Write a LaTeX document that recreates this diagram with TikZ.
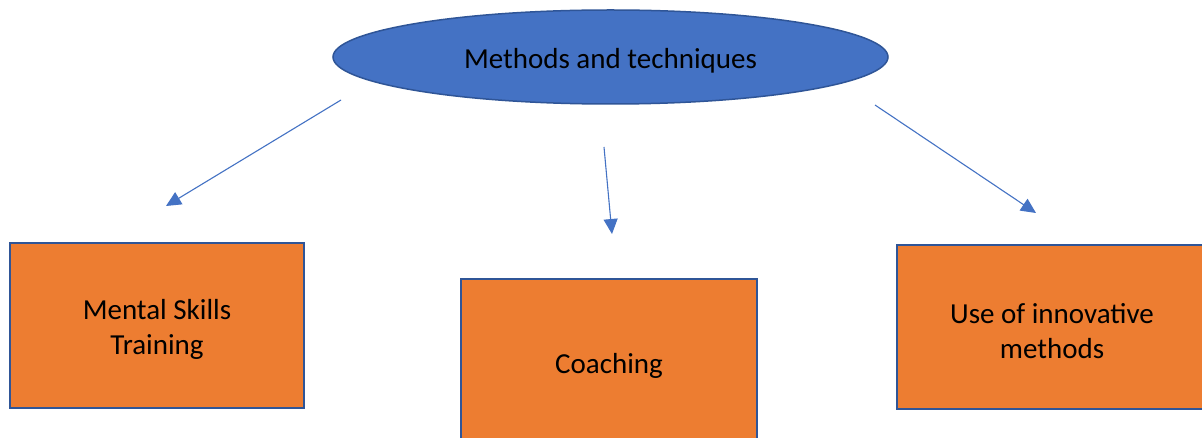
\documentclass[tikz,border=0pt]{standalone}
\usepackage{fontspec}
\setmainfont{Carlito}
\usetikzlibrary{shapes.geometric,arrows.meta}
\definecolor{ofblue}{HTML}{4472C4}
\definecolor{ofdark}{HTML}{2F5597}
\definecolor{oforange}{HTML}{ED7D31}
\tikzset{
  lbl/.style={font=\fontsize{29}{35.5}\selectfont, text=black, align=center},
  topic/.style={ellipse, draw=ofdark, line width=1.5pt, fill=ofblue, minimum width=555pt, minimum height=94pt, inner sep=0pt},
  itembox/.style={rectangle, draw=ofdark, line width=1.8pt, fill=oforange, inner sep=0pt},
  txt/.style={label={[lbl, yshift=-4pt]center:#1}},
  conn/.style={draw=ofblue, line width=1.1pt, -{Triangle[length=15pt,width=14pt]}}
}
\begin{document}
\begin{tikzpicture}[x=1pt,y=-1pt]
\useasboundingbox (0,0) rectangle (1202,438);
\fill[white] (0,0) rectangle (1202,438);
\node[topic, txt={Methods and techniques}] (top) at (610.5,57) {};
\node[itembox, minimum width=294pt, minimum height=165pt, txt={Mental Skills\\Training}] (mst) at (157,325.5) {};
\node[itembox, minimum width=296pt, minimum height=165pt, txt={Coaching}] (coach) at (609,361.5) {};
\node[itembox, minimum width=310pt, minimum height=164pt, txt={Use of innovative\\methods}] (inno) at (1052,327) {};
\coordinate (s1) at (341,100);
\coordinate (e1) at (166,206);
\coordinate (s2) at (604,147);
\coordinate (e2) at (612,234);
\coordinate (s3) at (875,105);
\coordinate (e3) at (1036,213);
\draw[conn] (s1) -- (e1);
\draw[conn] (s2) -- (e2);
\draw[conn] (s3) -- (e3);
\end{tikzpicture}
\end{document}
